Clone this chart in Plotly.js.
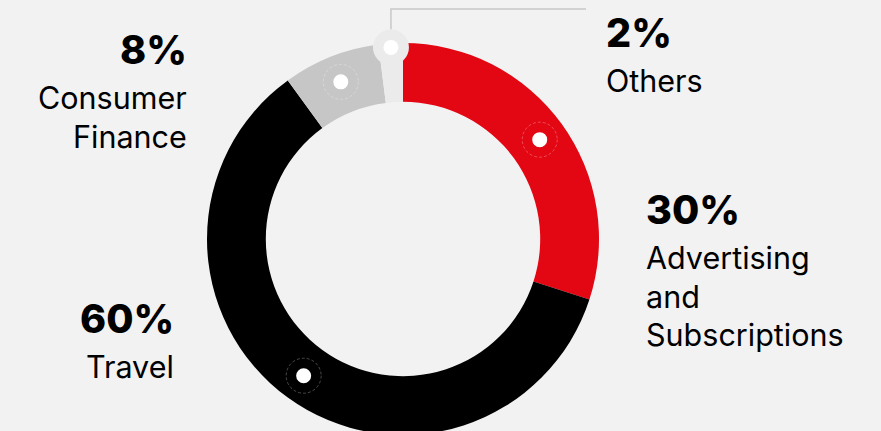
<!DOCTYPE html>
<html>
<head>
<meta charset="utf-8">
<script src="https://cdn.plot.ly/plotly-3.0.1.min.js"></script>
<style>
html,body{margin:0;padding:0;background:#f2f2f2;overflow:hidden;width:881px;height:431px;}
#chart{width:881px;height:440px;}
</style>
</head>
<body>
<div id="chart"></div>
<script>
// ---- data ----
const categories = ["Advertising and Subscriptions", "Travel", "Consumer Finance", "Others"];
const shares = [30, 60, 8, 2];
const pctLabels = ["30%", "60%", "8%", "2%"];
const nameLines = [["Advertising", "and", "Subscriptions"], ["Travel"], ["Consumer", "Finance"], ["Others"]];
const sliceColors = ["#e30613", "#000000", "#c6c6c6", "#ebebeb"];

// ---- layout helpers (pixel frame of the plot) ----
const W = 881, H = 440;
const cx = 403, cy = 239, rOut = 196, hole = 0.70;
const rMid = 169;
const fontFam = "Inter, 'Noto Sans', sans-serif";

const px = x => x / W;
const py = y => 1 - y / H;

const pie = {
  type: "pie",
  labels: categories,
  values: shares,
  sort: false,
  direction: "clockwise",
  rotation: 0,
  hole: hole,
  marker: {colors: sliceColors, line: {width: 0}},
  textinfo: "none",
  hoverinfo: "label+percent",
  showlegend: false,
  domain: {x: [px(cx - rOut), px(cx + rOut)], y: [py(cy + rOut), py(cy - rOut)]}
};

// marker positions from the slice mid-angles
const total = shares.reduce((a, b) => a + b, 0);
let cum = 0;
const mids = shares.map(v => { const m = (cum + v / 2) / total * 2 * Math.PI; cum += v; return m; });
const others = shares.length - 1;
const radii = shares.map((v, i) => i === others ? 192 : rMid);
const mx = mids.map((a, i) => cx + radii[i] * Math.sin(a));
const my = mids.map((a, i) => cy - radii[i] * Math.cos(a));

const circ = (x, y, r, fill, line) => ({type: "circle", xref: "x", yref: "y",
  x0: x - r, x1: x + r, y0: y - r, y1: y + r,
  fillcolor: fill, line: line || {width: 0}, layer: "above"});

const shapes = [];
// leader line for Others
shapes.push({type: "path", xref: "x", yref: "y",
  path: `M ${mx[others]} ${my[others] - 18} L ${mx[others]} 9 L 586 9`,
  line: {color: "#c8c8c8", width: 1.5}, layer: "above"});
for (let i = 0; i < others; i++) {
  shapes.push(circ(mx[i], my[i], 17.5, "rgba(0,0,0,0)", {color: "rgba(255,255,255,0.28)", width: 1, dash: "3px,2px"}));
}
shapes.push(circ(mx[others], my[others], 18, "#ebebeb"));
for (let i = 0; i < shares.length; i++) {
  shapes.push(circ(mx[i], my[i], 7.5, "#ffffff"));
}

// ---- annotations ----
const annotations = [];
const labelSpec = [
  {x: 644, align: "left", pctY: 210, lineY: [257, 296, 334]},
  {x: 176, align: "right", pctY: 319, lineY: [366]},
  {x: 189, align: "right", pctY: 50, lineY: [97, 136]},
  {x: 604, align: "left", pctY: 33, lineY: [80]}
];
labelSpec.forEach((s, i) => {
  annotations.push({xref: "paper", yref: "paper", x: px(s.x), y: py(s.pctY),
    xanchor: s.align, yanchor: "middle", showarrow: false, text: pctLabels[i],
    font: {family: fontFam, size: 39.5, weight: 800, color: "#000"}});
  nameLines[i].forEach((t, j) => {
    annotations.push({xref: "paper", yref: "paper", x: px(s.x), y: py(s.lineY[j]),
      xanchor: s.align, yanchor: "middle", showarrow: false, text: t,
      font: {family: fontFam, size: 30.5, color: "#000"}});
  });
});

const layout = {
  width: W, height: H,
  margin: {l: 0, r: 0, t: 0, b: 0, pad: 0},
  paper_bgcolor: "#f2f2f2", plot_bgcolor: "rgba(0,0,0,0)",
  xaxis: {range: [0, W], visible: false, fixedrange: true},
  yaxis: {range: [H, 0], visible: false, fixedrange: true},
  showlegend: false,
  shapes: shapes,
  annotations: annotations
};

Plotly.newPlot("chart", [pie], layout, {displayModeBar: false, staticPlot: true});
</script>
</body>
</html>
